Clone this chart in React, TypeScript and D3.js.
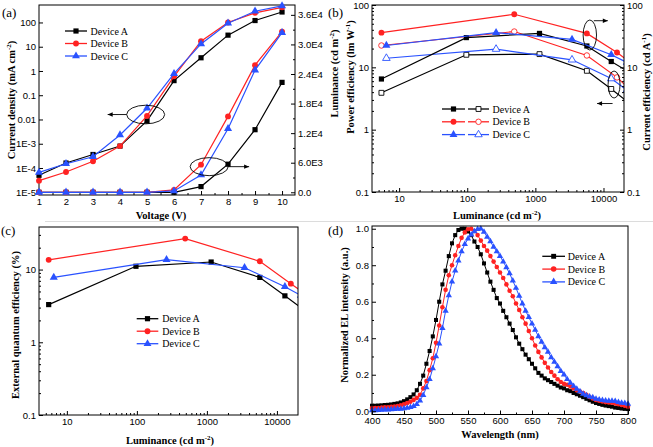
import React, { useEffect, useRef } from 'react';
import * as d3 from 'd3';

// ---- (a) J-V-L ----
const voltage = [1, 2, 3, 4, 5, 6, 7, 8, 9, 10];
const currentA = [5e-5, 1.6e-4, 3.6e-4, 8e-4, 8.7e-3, 0.4, 3.5, 30, 120, 270];
const currentB = [3e-5, 6.8e-5, 1.9e-4, 8e-4, 0.014, 0.6, 17, 100, 250, 420];
const currentC = [6.6e-5, 1.5e-4, 2.9e-4, 2.3e-3, 0.029, 0.78, 13, 93, 290, 480];
const brightA = [0, 0, 0, 0, 0, 0, 1160, 5700, 12700, 22300];
const brightB = [0, 0, 0, 0, 0, 480, 5600, 15400, 25800, 32600];
const brightC = [0, 0, 0, 0, 0, 270, 3500, 12900, 24800, 32400];

// ---- (b) and (c) efficiencies vs luminance ----
const lumA = [5.5, 97, 1150, 5700, 13000, 22000];
const lumB = [5.5, 490, 5700, 15800, 22000];
const lumC = [6.5, 265, 3450, 13000, 22000];
const ceA = [6.5, 30, 35, 22, 12.4, 8.8];
const peA = [3.9, 15.9, 16.3, 8.8, 4.5, 2.85];
const ceB = [36, 71, 35, 17.3, 13.2];
const peB = [22.4, 37.5, 15.5, 6.9, 4.9];
const ceC = [22.4, 36, 28, 15.9, 12];
const peC = [14, 19.6, 13.2, 6.6, 4.3];
const eqeA = [3.3, 11.1, 12.7, 7.8, 4.35, 3.0];
const eqeB = [13.6, 26.7, 13, 6.4, 5.1];
const eqeC = [7.8, 13.7, 10.6, 5.8, 4.4];

// ---- (d) EL spectra, 400-800 nm every 5 nm ----
const wavelength = d3.range(400, 801, 5);
const elA = [
  0.03, 0.03, 0.031, 0.032, 0.034, 0.035, 0.037, 0.04, 0.043, 0.048,
  0.055, 0.065, 0.077, 0.092, 0.115, 0.15, 0.195, 0.26, 0.33, 0.41,
  0.5, 0.6, 0.695, 0.77, 0.85, 0.92, 0.965, 0.993, 1.0, 1.0,
  0.985, 0.965, 0.93, 0.9, 0.86, 0.81, 0.76, 0.71, 0.665, 0.62,
  0.59, 0.55, 0.515, 0.48, 0.445, 0.405, 0.37, 0.34, 0.31, 0.285,
  0.26, 0.235, 0.21, 0.195, 0.18, 0.17, 0.16, 0.15, 0.14, 0.13,
  0.125, 0.115, 0.11, 0.1, 0.093, 0.085, 0.077, 0.068, 0.06, 0.052,
  0.045, 0.04, 0.035, 0.031, 0.028, 0.025, 0.02, 0.018, 0.015, 0.013,
  0.012,
];
const elB = [
  0.018, 0.017, 0.018, 0.02, 0.021, 0.022, 0.024, 0.026, 0.029, 0.033,
  0.038, 0.045, 0.052, 0.062, 0.073, 0.09, 0.125, 0.165, 0.225, 0.29,
  0.375, 0.47, 0.57, 0.665, 0.745, 0.8, 0.855, 0.905, 0.95, 0.98,
  0.997, 1.0, 0.988, 0.965, 0.935, 0.905, 0.88, 0.85, 0.82, 0.79,
  0.76, 0.73, 0.695, 0.66, 0.63, 0.59, 0.555, 0.515, 0.48, 0.44,
  0.4, 0.36, 0.325, 0.295, 0.265, 0.24, 0.215, 0.195, 0.175, 0.16,
  0.15, 0.145, 0.135, 0.125, 0.115, 0.108, 0.1, 0.09, 0.078, 0.07,
  0.062, 0.057, 0.053, 0.05, 0.048, 0.046, 0.042, 0.038, 0.034, 0.03,
  0.025,
];
const elC = [
  0.005, 0.005, 0.006, 0.007, 0.008, 0.009, 0.01, 0.011, 0.012, 0.013,
  0.015, 0.018, 0.022, 0.028, 0.038, 0.058, 0.088, 0.13, 0.175, 0.235,
  0.3, 0.37, 0.455, 0.55, 0.635, 0.71, 0.77, 0.825, 0.875, 0.915,
  0.945, 0.967, 0.985, 0.998, 1.0, 0.982, 0.955, 0.93, 0.9, 0.875,
  0.85, 0.82, 0.788, 0.755, 0.715, 0.675, 0.632, 0.59, 0.55, 0.515,
  0.48, 0.445, 0.41, 0.38, 0.35, 0.325, 0.295, 0.27, 0.245, 0.22,
  0.2, 0.175, 0.155, 0.138, 0.122, 0.108, 0.095, 0.087, 0.08, 0.076,
  0.068, 0.064, 0.06, 0.058, 0.056, 0.057, 0.055, 0.05, 0.046, 0.044,
  0.04,
];

const devices = ['Device A', 'Device B', 'Device C'];
const colors = ['#000000', '#ff2222', '#2a52ff'];
const shapes = [d3.symbolSquare, d3.symbolCircle, d3.symbolTriangle];

const SANS = "'Liberation Sans', Arial, sans-serif";
const SERIF = "'Liberation Serif', 'Times New Roman', serif";

type Sel = d3.Selection<any, unknown, null, undefined>;
type Pt = [number, number];
const zip = (xs: number[], ys: number[]): Pt[] => xs.map((x, i) => [x, ys[i]] as Pt);

const logMinor = (lo: number, hi: number) => {
  const out: number[] = [];
  for (let e = -3; e <= 5; e++) {
    for (let m = 2; m <= 9; m++) {
      const v = m * Math.pow(10, e);
      if (v > lo && v < hi) out.push(v);
    }
  }
  return out;
};

function frame(g: Sel, x0: number, x1: number, y0: number, y1: number) {
  g.append('rect')
    .attr('x', x0).attr('y', y0)
    .attr('width', x1 - x0).attr('height', y1 - y0)
    .attr('fill', 'none').attr('stroke', '#000').attr('stroke-width', 1);
}

function axis(g: Sel, kind: 'b' | 'l' | 'r', scale: any, pos: number,
  major: number[], minor: number[], fmt: (v: number) => string) {
  const make = () => kind === 'b' ? d3.axisBottom(scale) : kind === 'l' ? d3.axisLeft(scale) : d3.axisRight(scale);
  const tr = kind === 'b' ? `translate(0,${pos})` : `translate(${pos},0)`;
  const m = g.append('g').attr('transform', tr)
    .call(make().tickValues(minor).tickSizeInner(-2).tickSizeOuter(0).tickFormat(() => '') as any);
  m.select('.domain').remove();
  const a = g.append('g').attr('transform', tr)
    .call(make().tickValues(major).tickSizeInner(-4).tickSizeOuter(0).tickPadding(3).tickFormat(fmt as any) as any);
  a.select('.domain').remove();
  a.selectAll('text').attr('font-family', SANS).attr('font-size', 9.5).attr('fill', '#000');
  a.selectAll('line').attr('stroke', '#000');
  m.selectAll('line').attr('stroke', '#000');
}

function title(g: Sel, x: number, y: number, rot: number, parts: [string, boolean][]) {
  const t = g.append('text')
    .attr('transform', `translate(${x},${y}) rotate(${rot})`)
    .attr('text-anchor', 'middle')
    .attr('font-family', SERIF).attr('font-weight', 'bold').attr('font-size', 10.5);
  let up = false;
  parts.forEach(([s, sup]) => {
    const ts = t.append('tspan').text(s);
    if (sup && !up) { ts.attr('dy', -4).attr('font-size', 7); up = true; }
    else if (!sup && up) { ts.attr('dy', 4); up = false; }
  });
}

function series(g: Sel, pts: Pt[], x: any, y: any, i: number, open: boolean, size: number, lw = 1.2) {
  g.append('path')
    .datum(pts)
    .attr('fill', 'none').attr('stroke', colors[i]).attr('stroke-width', lw)
    .attr('d', d3.line<Pt>().x(d => x(d[0])).y(d => y(d[1])));
  g.selectAll(null).data(pts).enter().append('path')
    .attr('transform', d => `translate(${x(d[0])},${y(d[1])})`)
    .attr('d', d3.symbol().type(shapes[i]).size(i === 2 ? size * 1.05 : size)() as string)
    .attr('fill', open ? '#fff' : colors[i])
    .attr('stroke', open ? colors[i] : 'none')
    .attr('stroke-width', 0.9);
}

function legendRow(g: Sel, x0: number, x1: number, y: number, i: number, open: boolean, size: number) {
  g.append('line').attr('x1', x0).attr('x2', x1).attr('y1', y).attr('y2', y)
    .attr('stroke', colors[i]).attr('stroke-width', 1.3);
  g.append('path').attr('transform', `translate(${(x0 + x1) / 2},${y})`)
    .attr('d', d3.symbol().type(shapes[i]).size(size)() as string)
    .attr('fill', open ? '#fff' : colors[i])
    .attr('stroke', open ? colors[i] : 'none').attr('stroke-width', 0.9);
}

function legendText(g: Sel, x: number, y: number, s: string) {
  g.append('text').attr('x', x).attr('y', y + 3.5)
    .attr('font-family', SERIF).attr('font-size', 10).text(s);
}

function ellipseArrow(g: Sel, cx: number, cy: number, rx: number, ry: number,
  ax0: number, ay0: number, ax1: number, ay1: number) {
  g.append('ellipse').attr('cx', cx).attr('cy', cy).attr('rx', rx).attr('ry', ry)
    .attr('fill', 'none').attr('stroke', '#000').attr('stroke-width', 0.9);
  g.append('line').attr('x1', ax0).attr('y1', ay0).attr('x2', ax1).attr('y2', ay1)
    .attr('stroke', '#000').attr('stroke-width', 0.9);
  const ang = Math.atan2(ay1 - ay0, ax1 - ax0);
  const L = 5, w = 2.2;
  const bx = ax1 - L * Math.cos(ang), by = ay1 - L * Math.sin(ang);
  const px = -Math.sin(ang) * w, py = Math.cos(ang) * w;
  g.append('path')
    .attr('d', `M${ax1},${ay1}L${bx + px},${by + py}L${bx - px},${by - py}Z`)
    .attr('fill', '#000');
}

function clip(svg: Sel, id: string, x0: number, x1: number, y0: number, y1: number) {
  svg.append('clipPath').attr('id', id).append('rect')
    .attr('x', x0).attr('y', y0).attr('width', x1 - x0).attr('height', y1 - y0);
}

const panelLabel = (g: Sel, x: number, y: number, s: string) =>
  g.append('text').attr('x', x).attr('y', y).attr('font-family', SERIF).attr('font-size', 13).text(s);

const App: React.FC = () => {
  const svgRef = useRef<SVGSVGElement | null>(null);

  useEffect(() => {
    const svg = d3.select(svgRef.current) as Sel;
    svg.selectAll('*').remove();
    svg.append('rect').attr('width', 653).attr('height', 447).attr('fill', '#fff');
    svg.append('line').attr('x1', 45).attr('x2', 653).attr('y1', 221.5).attr('y2', 221.5)
      .attr('stroke', '#dcdcdc').attr('stroke-width', 1);

    // ---------- (a) ----------
    const ga = svg.append('g');
    const xa = d3.scaleLinear().domain([1, 10.48]).range([39, 295]);
    const yj = d3.scaleLog().domain([7.7e-6, 525]).range([195, 5]);
    const yl = d3.scaleLinear().domain([-550, 38000]).range([195, 5]);
    frame(ga, 39, 295, 5, 195);
    axis(ga, 'b', xa, 195, voltage, d3.range(1.5, 10.5, 1), v => String(v));
    axis(ga, 'l', yj, 39, [1e-5, 1e-4, 1e-3, 0.01, 0.1, 1, 10, 100], [],
      v => v >= 0.01 ? String(v) : `1E${Math.round(Math.log10(v))}`);
    axis(ga, 'r', yl, 295, d3.range(0, 36001, 6000), d3.range(3000, 36001, 6000),
      v => v === 0 ? '0.0' : d3.format('.1e')(v).replace('e+', 'E'));
    [currentA, currentB, currentC].forEach((c, i) => series(ga, zip(voltage, c), xa, yj, i, false, 27));
    [brightA, brightB, brightC].forEach((b, i) => series(ga, zip(voltage, b), xa, yl, i, false, 27));
    ellipseArrow(ga, xa(4.95), yj(0.016), 19, 9.3, xa(4.95) - 19, yj(0.016), xa(4.95) - 38, yj(0.016));
    ellipseArrow(ga, xa(7.3), yl(5200), 19, 9, xa(7.3) + 19, yl(5200), xa(7.3) + 40, yl(5200));
    devices.forEach((d, i) => {
      legendRow(ga, 65, 87, 31 + i * 12.5, i, false, 27);
      legendText(ga, 90.5, 31 + i * 12.5, d);
    });
    title(ga, 161, 218.5, 0, [['Voltage (V)', false]]);
    title(ga, 14.5, 100, -90, [['Current density (mA cm', false], ['-2', true], [')', false]]);
    panelLabel(ga, 2, 17, '(a)');

    // ---------- (b) ----------
    const gb = svg.append('g');
    const xb = d3.scaleLog().domain([4, 20000]).range([372, 624]);
    const yb = d3.scaleLog().domain([0.1, 100]).range([192, 5]);
    clip(svg, 'clipB', 372, 624, 5, 192);
    const pb = gb.append('g').attr('clip-path', 'url(#clipB)');
    [zip(lumA, peA), zip(lumB, peB), zip(lumC, peC)].forEach((p, i) => series(pb, p, xb, yb, i, true, 24));
    [zip(lumA, ceA), zip(lumB, ceB), zip(lumC, ceC)].forEach((p, i) => series(pb, p, xb, yb, i, false, 27));
    frame(gb, 372, 624, 5, 192);
    axis(gb, 'b', xb, 192, [10, 100, 1000, 10000], logMinor(4, 20000), v => String(v));
    axis(gb, 'l', yb, 372, [0.1, 1, 10, 100], logMinor(0.1, 100), v => String(v));
    axis(gb, 'r', yb, 624, [0.1, 1, 10, 100], logMinor(0.1, 100), v => String(v));
    const e1x = xb(6300), e1y = yb(33);
    ellipseArrow(gb, e1x, e1y, 6.7, 15, e1x + 4, e1y - 14.3, e1x + 18, e1y - 14.3);
    const e2x = xb(14300), e2y = yb(5.3);
    ellipseArrow(gb, e2x, e2y, 6, 13.5, e2x - 1.5, e2y + 19, e2x - 17, e2y + 19);
    devices.forEach((d, i) => {
      const y = 109 + i * 12.8;
      legendRow(gb, 442, 465, y, i, false, 27);
      legendRow(gb, 468, 489, y, i, true, 24);
      legendText(gb, 492.5, y, d);
    });
    title(gb, 497, 218.5, 0, [['Luminance (cd m', false], ['-2', true], [')', false]]);
    title(gb, 337.5, 73.5, -90, [['Luminance (cd m', false], ['-2', true], [')', false]]);
    title(gb, 353.5, 77, -90, [['Power efficiency (lm W', false], ['-1', true], [')', false]]);
    title(gb, 649.5, 92, -90, [['Current efficiency (cd A', false], ['-1', true], [')', false]]);
    panelLabel(gb, 328, 17, '(b)');

    // ---------- (c) ----------
    const gc = svg.append('g');
    const xc = d3.scaleLog().domain([4, 20000]).range([39, 298]);
    const yc = d3.scaleLog().domain([0.1, 38.5]).range([415, 227]);
    clip(svg, 'clipC', 39, 298, 227, 415);
    const pc = gc.append('g').attr('clip-path', 'url(#clipC)');
    [zip(lumA, eqeA), zip(lumB, eqeB), zip(lumC, eqeC)].forEach((p, i) => series(pc, p, xc, yc, i, false, 27));
    frame(gc, 39, 298, 227, 415);
    axis(gc, 'b', xc, 415, [10, 100, 1000, 10000], logMinor(4, 20000), v => String(v));
    axis(gc, 'l', yc, 39, [0.1, 1, 10], logMinor(0.1, 38.5), v => String(v));
    devices.forEach((d, i) => {
      const y = 318.7 + i * 12.5;
      legendRow(gc, 136.7, 158.3, y, i, false, 27);
      legendText(gc, 162.3, y, d);
    });
    title(gc, 170, 444, 0, [['Luminance (cd m', false], ['-2', true], [')', false]]);
    title(gc, 18.5, 325, -90, [['External quantum efficiency (%)', false]]);
    panelLabel(gc, 1, 235, '(c)');

    // ---------- (d) ----------
    const gd = svg.append('g');
    const xd = d3.scaleLinear().domain([400, 800]).range([372, 628]);
    const yd = d3.scaleLinear().domain([-0.018, 1.015]).range([414.5, 226]);
    const pd = gd.append('g');
    [elA, elB, elC].forEach((s, i) => series(pd, zip(wavelength, s), xd, yd, i, false, 16.5, 1));
    frame(gd, 372, 628, 226, 414.5);
    axis(gd, 'b', xd, 414.5, d3.range(400, 801, 50), d3.range(425, 800, 50), v => String(v));
    axis(gd, 'l', yd, 372, [0, 0.2, 0.4, 0.6, 0.8, 1.0], [0.1, 0.3, 0.5, 0.7, 0.9], v => d3.format('.1f')(v));
    devices.forEach((d, i) => {
      const y = 256.3 + i * 12.8;
      legendRow(gd, 542.3, 565, y, i, false, 24);
      legendText(gd, 567.7, y, d);
    });
    title(gd, 500, 438, 0, [['Wavelength (nm)', false]]);
    title(gd, 348, 315, -90, [['Normalized EL intensity (a.u.)', false]]);
    panelLabel(gd, 328, 235, '(d)');
  }, []);

  return (
    <svg ref={svgRef} width={653} height={447}
      style={{ position: 'absolute', left: 0, top: 0 }} />
  );
};

export default App;
